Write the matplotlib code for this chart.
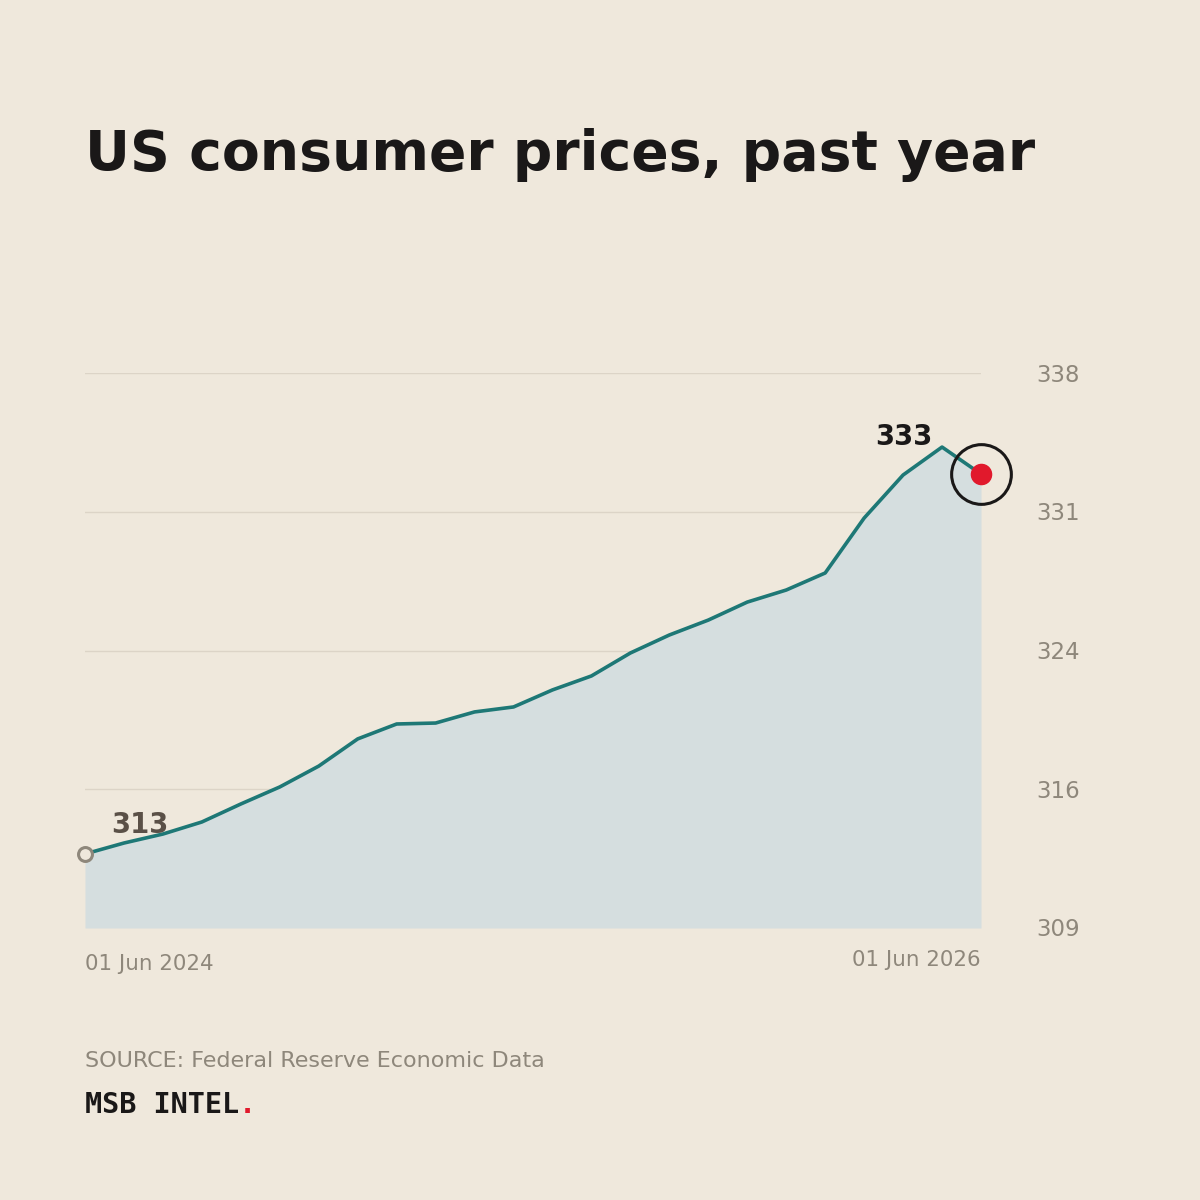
import matplotlib
matplotlib.use("Agg")
import matplotlib.pyplot as plt
import matplotlib.transforms as mtransforms
import numpy as np

# monthly CPI readings
cpi = [312.87, 313.44, 313.91, 314.54, 315.48, 316.37, 317.46, 318.88,
       319.66, 319.71, 320.29, 320.55, 321.44, 322.17, 323.37, 324.31,
       325.09, 326.03, 326.66, 327.55, 330.42, 332.67, 334.13, 332.72]
y_ticks = [309, 316.25, 323.5, 330.75, 338]
y_tick_labels = ["309", "316", "324", "331", "338"]
x_labels = ["01 Jun 2024", "01 Jun 2026"]

BG = "#EFE8DC"
FILL = "#D5DEDF"
LINE = "#1E7876"
GRID = "#DCD4C7"
MUTED = "#8E877B"
RED = "#E1192C"
INK = "#1A1818"


def main():
	fig = plt.figure(figsize=(12, 12), dpi=100, facecolor=BG)
	ax = fig.add_axes([85/1200, 1-928/1200, (981-85)/1200, (928-373)/1200])
	ax.set_facecolor(BG)

	x = np.arange(len(cpi))
	ax.set_xlim(0, len(cpi)-1)
	ax.set_ylim(y_ticks[0], y_ticks[-1])

	for t in y_ticks[1:]:
		ax.axhline(t, color=GRID, lw=1.0, zorder=0)

	ax.fill_between(x, y_ticks[0], cpi, color=FILL, lw=0, zorder=1)
	ax.plot(x, cpi, color=LINE, lw=2.6, solid_joinstyle="round", zorder=3)

	# start marker
	ax.plot(x[0], cpi[0], "o", ms=10, mfc=BG, mec=MUTED, mew=2.2,
		zorder=5, clip_on=False)
	# end marker + ring
	ax.plot(x[-1], cpi[-1], "o", ms=14.5, color=RED, zorder=6, clip_on=False)
	ax.plot(x[-1], cpi[-1], "o", ms=43, mfc="none", mec=INK, mew=2.2,
		zorder=6, clip_on=False)

	ax.annotate("%d" % round(cpi[0]), (x[0], cpi[0]), xytext=(19, 21),
		textcoords="offset points", fontsize=19.8, fontweight="bold",
		color="#5A5047", ha="left", va="center")
	ax.annotate("%d" % round(cpi[-1]), (x[-1], cpi[-1]), xytext=(-35, 27),
		textcoords="offset points", fontsize=19.8, fontweight="bold",
		color=INK, ha="right", va="center")

	for spine in ax.spines.values():
		spine.set_visible(False)
	ax.set_xticks([])
	ax.set_yticks([])

	# right-hand value labels, nudged down a touch
	nudge = mtransforms.ScaledTranslation(0, -2/100, fig.dpi_scale_trans)
	for t, lab in zip(y_ticks, y_tick_labels):
		ax.text(1.0 + 55/896, t, lab, transform=ax.get_yaxis_transform() + nudge,
			fontsize=16.5, color=MUTED, ha="left", va="center")

	ax.text(0, -36/555, x_labels[0], transform=ax.transAxes, fontsize=15.4,
		color=MUTED, ha="left", va="center")
	ax.text(1, -32/555, x_labels[1], transform=ax.transAxes, fontsize=15.4,
		color=MUTED, ha="right", va="center")

	fig.text(85/1200, 1-155/1200, "US consumer prices, past year",
		fontsize=39.8, fontweight="bold", color=INK, ha="left", va="center")
	fig.text(85/1200, 1-1061/1200, "SOURCE: Federal Reserve Economic Data",
		fontsize=16, color=MUTED, ha="left", va="center")
	brand = fig.text(85/1200, 1-1105/1200, "MSB INTEL", family="DejaVu Sans Mono",
		fontsize=20.5, fontweight="bold", color=INK, ha="left", va="center")
	fig.canvas.draw()
	bb = brand.get_window_extent()
	fig.text(bb.x1/1200, 1-1105/1200, ".", family="DejaVu Sans Mono",
		fontsize=20.5, fontweight="bold", color=RED, ha="left", va="center")

	fig.savefig("out.png", dpi=100, facecolor=BG)


if __name__ == '__main__':
	main()
